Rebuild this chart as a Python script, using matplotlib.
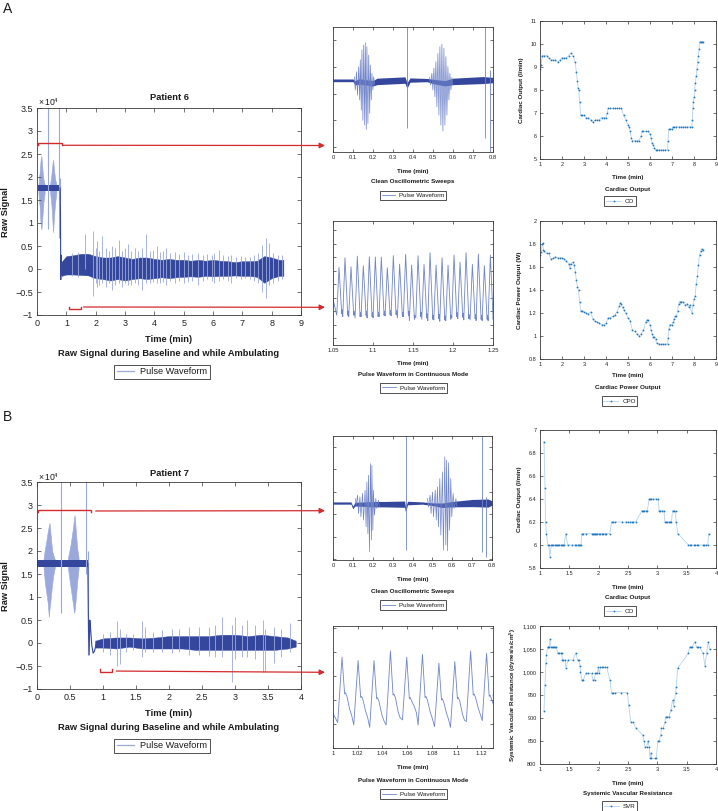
import numpy as np
import matplotlib
matplotlib.use('Agg')
import matplotlib.pyplot as plt
from matplotlib.lines import Line2D
from matplotlib.ticker import FuncFormatter

plt.rcParams['font.family'] = ['Liberation Sans', 'DejaVu Sans']
plt.rcParams['mathtext.fontset'] = 'custom'
plt.rcParams['mathtext.rm'] = 'Liberation Sans'
plt.rcParams['mathtext.it'] = 'Liberation Sans:italic'
plt.rcParams['mathtext.bf'] = 'Liberation Sans:bold'

# ======================= DATA =======================
# ---- Patient 6, raw signal (units of 1e4) ----
raw6_base_t = [0.02, 0.80]
raw6_base_v = [1.76, 1.76]
raw6_base_hw = [0.07, 0.07]
# group 1/2 = oscillometric bursts (envelopes), 0 = single spikes
raw6_burst_g = [1, 1, 1, 1, 1, 1, 1, 0, 2, 2, 2, 2, 2, 2, 2, 0, 0]
raw6_burst_t = [0.05, 0.09, 0.12, 0.15, 0.18, 0.22, 0.26, 0.37, 0.45, 0.49, 0.52, 0.55, 0.58, 0.62, 0.66, 0.75, 0.78]
raw6_burst_hi = [1.85, 2.10, 2.35, 2.46, 2.20, 1.95, 1.85, 3.60, 1.85, 2.05, 2.25, 2.38, 2.15, 1.95, 1.85, 3.60, 1.98]
raw6_burst_lo = [1.65, 1.35, 1.00, 0.86, 1.10, 1.45, 1.65, 0.87, 1.65, 1.40, 1.10, 0.80, 1.15, 1.45, 1.65, 0.67, 1.50]
raw6_drop_t = [0.79, 0.80, 0.81, 0.82, 0.83, 0.85]
raw6_drop_v = [1.76, 1.20, -0.23, 0.30, -0.12, 0.05]
raw6_amb_t = [0.83, 1.0, 1.25, 1.5, 1.75, 1.9, 2.0, 2.25, 2.5, 2.75, 3.0, 3.25, 3.5, 3.75, 4.0, 4.25, 4.5,
              4.75, 5.0, 5.25, 5.5, 5.75, 6.0, 6.25, 6.5, 6.75, 7.0, 7.25, 7.5, 7.75, 8.0, 8.25, 8.4]
raw6_core_hi = [0.15, 0.28, 0.30, 0.33, 0.33, 0.30, 0.28, 0.25, 0.25, 0.28, 0.25, 0.22, 0.25, 0.25, 0.22, 0.20, 0.22,
                0.20, 0.20, 0.18, 0.20, 0.18, 0.20, 0.18, 0.17, 0.15, 0.17, 0.17, 0.18, 0.28, 0.25, 0.20, 0.20]
raw6_core_lo = [-0.15, -0.12, -0.12, -0.13, -0.14, -0.18, -0.20, -0.22, -0.25, -0.22, -0.25, -0.22, -0.20, -0.22, -0.20, -0.18, -0.20,
                -0.18, -0.17, -0.16, -0.17, -0.15, -0.16, -0.15, -0.15, -0.14, -0.15, -0.15, -0.17, -0.30, -0.20, -0.15, -0.15]
raw6_spk_t = [1.20, 1.40, 1.63, 1.91, 2.00, 2.05, 2.12, 2.22, 2.35, 2.45, 2.55, 2.65, 2.78, 2.90, 3.00, 3.10, 3.20,
              3.35, 3.45, 3.58, 3.72, 3.85, 3.95, 4.09, 4.20, 4.30, 4.40, 4.55, 4.70, 4.85, 5.02, 5.15, 5.30, 5.50,
              5.65, 5.80, 5.95, 6.05, 6.19, 6.35, 6.50, 6.60, 6.80, 6.95, 7.10, 7.25, 7.40, 7.55, 7.67, 7.81, 7.90,
              8.05, 8.20, 8.35]
raw6_spk_hi = [0.35, 0.36, 0.77, 0.82, 0.45, 0.60, 0.40, 0.71, 0.45, 0.40, 0.50, 0.45, 0.64, 0.40, 0.45, 0.55, 0.40,
               0.45, 0.40, 0.45, 0.77, 0.40, 0.42, 0.49, 0.38, 0.40, 0.45, 0.35, 0.38, 0.33, 0.36, 0.30, 0.32, 0.35,
               0.30, 0.33, 0.30, 0.35, 0.42, 0.30, 0.28, 0.30, 0.26, 0.28, 0.26, 0.27, 0.30, 0.35, 0.53, 0.67, 0.57,
               0.35, 0.30, 0.30]
raw6_spk_lo = [-0.15, -0.18, 0.00, -0.58, -0.30, -0.40, -0.35, -0.30, -0.40, -0.30, -0.45, -0.35, -0.30, -0.40, -0.30, -0.35, -0.35,
               -0.30, -0.35, -0.45, -0.30, -0.30, -0.28, -0.30, -0.30, -0.28, -0.35, -0.25, -0.30, -0.25, -0.30, -0.28, -0.25, -0.35,
               -0.25, -0.22, -0.25, -0.30, -0.25, -0.22, -0.25, -0.30, -0.20, -0.22, -0.20, -0.22, -0.25, -0.30, -0.50, -0.63, -0.35,
               -0.30, -0.25, -0.22]

# ---- Patient 7, raw signal ----
raw7_base_t = [0.0, 0.78]
raw7_base_v = [1.73, 1.73]
raw7_base_hw = [0.08, 0.08]
raw7_burst_g = [1, 1, 1, 1, 1, 1, 1, 1, 1, 1, 0, 2, 2, 2, 2, 2, 2, 2, 2, 2, 2, 0, 0]
raw7_burst_t = [0.10, 0.12, 0.14, 0.16, 0.18, 0.19, 0.21, 0.23, 0.25, 0.27, 0.364,
                0.47, 0.49, 0.51, 0.53, 0.55, 0.56, 0.57, 0.59, 0.61, 0.63, 0.747, 0.77]
raw7_burst_hi = [1.85, 2.05, 2.20, 2.40, 2.55, 2.61, 2.30, 2.00, 1.90, 1.82, 3.60,
                 1.85, 2.00, 2.15, 2.35, 2.55, 2.70, 2.78, 2.40, 2.05, 1.85, 3.60, 2.00]
raw7_burst_lo = [1.62, 1.30, 1.10, 0.90, 0.57, 0.75, 1.00, 1.30, 1.50, 1.64, 0.66,
                 1.62, 1.40, 1.20, 1.00, 0.80, 0.66, 0.70, 1.00, 1.35, 1.62, 1.50, -0.26]
raw7_drop_t = [0.77, 0.78, 0.79, 0.80, 0.81, 0.83, 0.85, 0.87, 0.90]
raw7_drop_v = [1.73, 0.30, -0.26, 0.50, 0.35, -0.05, -0.22, -0.18, 0.00]
raw7_amb_t = [0.88, 1.0, 1.2, 1.4, 1.6, 1.8, 2.0, 2.2, 2.4, 2.6, 2.8, 3.0, 3.2, 3.4, 3.6, 3.8, 3.92]
raw7_core_hi = [0.05, 0.10, 0.12, 0.12, 0.10, 0.12, 0.15, 0.15, 0.15, 0.15, 0.18, 0.18, 0.15, 0.18, 0.15, 0.12, 0.05]
raw7_core_lo = [-0.10, -0.10, -0.12, -0.08, -0.12, -0.12, -0.12, -0.12, -0.15, -0.15, -0.15, -0.15, -0.15, -0.15, -0.15, -0.12, -0.08]
raw7_spk_t = [1.00, 1.10, 1.21, 1.25, 1.35, 1.45, 1.59, 1.63, 1.75, 1.90, 2.05, 2.15, 2.30, 2.45, 2.60, 2.70,
              2.80, 2.95, 3.00, 3.10, 3.18, 3.30, 3.43, 3.46, 3.59, 3.70, 3.83]
raw7_spk_hi = [0.20, 0.25, 0.47, 0.30, 0.20, 0.20, 0.47, 0.35, 0.25, 0.28, 0.30, 0.30, 0.35, 0.35, 0.35, 0.40,
               0.57, 0.40, 0.57, 0.40, 0.50, 0.40, 0.50, 0.30, 0.35, 0.30, 0.43]
raw7_spk_lo = [-0.20, -0.25, -0.51, -0.45, -0.20, -0.15, -0.30, -0.20, -0.20, -0.20, -0.22, -0.20, -0.25, -0.25, -0.28, -0.30,
               -0.30, -0.84, -0.35, -0.30, -0.30, -0.35, -0.62, -0.62, -0.44, -0.30, -0.20]

# ---- Clean oscillometric sweeps (arbitrary units) ----
sw6_base_t = [0, 0.10, 0.11, 0.13, 0.20, 0.22, 0.36, 0.37, 0.385, 0.47, 0.50, 0.56, 0.60, 0.75, 0.80]
sw6_base_v = [2.49, 2.49, 2.40, 2.45, 2.38, 2.45, 2.50, 2.30, 2.50, 2.50, 2.45, 2.38, 2.45, 2.50, 2.50]
sw6_base_hw = [0.05, 0.05, 0.08, 0.10, 0.10, 0.12, 0.12, 0.10, 0.08, 0.06, 0.08, 0.10, 0.12, 0.13, 0.10]
sw6_g = [1] * 12 + [0] + [2] * 12 + [0, 0]
sw6_t = [0.109, 0.120, 0.131, 0.139, 0.147, 0.156, 0.164, 0.172, 0.181, 0.189, 0.197, 0.206, 0.3716,
         0.485, 0.497, 0.507, 0.517, 0.527, 0.537, 0.547, 0.557, 0.567, 0.577, 0.587, 0.597, 0.758, 0.783]
sw6_hi = [2.62, 2.81, 3.00, 3.25, 3.62, 3.80, 3.89, 3.74, 3.43, 3.06, 2.75, 2.62, 5.0,
          2.60, 2.75, 2.94, 3.18, 3.49, 3.74, 3.83, 3.68, 3.37, 3.00, 2.75, 2.60, 5.0, 2.87]
sw6_lo = [2.13, 1.94, 1.76, 1.39, 1.01, 0.83, 0.67, 0.89, 1.26, 1.76, 2.13, 2.32, 0.71,
          2.32, 2.13, 1.88, 1.51, 1.20, 0.83, 0.61, 0.83, 1.20, 1.76, 2.13, 2.32, 0.36, -0.5]

sw7_base_t = [0, 0.09, 0.10, 0.11, 0.20, 0.25, 0.36, 0.365, 0.375, 0.45, 0.50, 0.55, 0.60, 0.70, 0.78, 0.80]
sw7_base_v = [2.50, 2.50, 2.30, 2.45, 2.45, 2.45, 2.45, 2.20, 2.50, 2.50, 2.45, 2.40, 2.45, 2.50, 2.50, 2.50]
sw7_base_hw = [0.05, 0.05, 0.06, 0.08, 0.12, 0.12, 0.14, 0.10, 0.08, 0.05, 0.06, 0.10, 0.12, 0.16, 0.18, 0.10]
sw7_g = [1] * 12 + [0] + [2] * 13 + [0, 0]
sw7_t = [0.114, 0.126, 0.138, 0.151, 0.164, 0.173, 0.181, 0.191, 0.198, 0.206, 0.218, 0.231, 0.367,
         0.478, 0.491, 0.503, 0.517, 0.528, 0.540, 0.553, 0.565, 0.574, 0.584, 0.595, 0.607, 0.621, 0.751, 0.771]
sw7_hi = [2.70, 2.85, 2.78, 2.93, 3.07, 3.44, 3.74, 4.26, 4.18, 3.07, 2.70, 2.63, 6.0,
          2.70, 2.85, 2.99, 3.07, 3.22, 3.59, 3.89, 4.56, 4.41, 4.30, 3.59, 2.93, 2.70, 6.0, 2.78]
sw7_lo = [2.40, 2.03, 1.89, 1.74, 1.44, 1.14, 0.33, 0.85, 1.29, 1.96, 2.26, 2.33, 0.40,
          2.33, 2.03, 1.89, 1.74, 1.44, 1.07, 0.40, 0.63, 0.37, 1.29, 1.89, 2.26, 2.33, 0.33, 0.10]

# ---- Pulse waveform in continuous mode (per-beat landmarks) ----
pw6_peak_t = [1.0575, 1.0650, 1.0725, 1.0804, 1.0879, 1.0954, 1.1029, 1.1104, 1.1179, 1.1254, 1.1333, 1.1408, 1.1483,
              1.1563, 1.1638, 1.1713, 1.1788, 1.1863, 1.1938, 1.2013, 1.2088, 1.2163, 1.2242, 1.2317, 1.2392, 1.2467]
pw6_peak_v = [5.24, 5.95, 5.29, 6.07, 5.36, 6.02, 6.00, 6.00, 5.21, 6.10, 5.48, 6.20, 5.41,
              6.10, 5.46, 6.32, 5.41, 5.95, 5.41, 6.15, 5.63, 6.32, 5.46, 6.22, 5.36, 6.15]
pw6_trough_v = [1.70, 1.60, 1.60, 1.50, 1.60, 1.50, 1.50, 1.60, 1.65, 1.65, 1.50, 1.60, 1.30,
                1.50, 1.40, 1.30, 1.35, 1.25, 1.30, 1.50, 1.45, 1.35, 1.35, 1.30, 1.30, 1.30]
pw6_start = (1.050, 2.90)
pw6_end = (1.2505, 3.50)

pw7_peak_t = [1.0073, 1.0203, 1.0332, 1.0465, 1.0597, 1.0724, 1.0857, 1.0986, 1.1114, 1.1243]
pw7_peak_v = [3.78, 3.64, 3.64, 4.04, 3.78, 3.90, 3.53, 3.60, 4.04, 3.94]
pw7_notch_v = [2.25, 2.10, 2.05, 2.20, 2.05, 2.10, 2.00, 2.05, 2.20, 2.15]
pw7_trough_v = [1.06, 0.96, 0.86, 0.96, 1.17, 0.96, 0.89, 0.86, 1.10, 1.14]
pw7_start = (1.000, 1.44)
pw7_end = (1.1295, 2.21)

# ---- Cardiac output, patient 6 ----
co6_t = [1.0, 1.05, 1.1, 1.2, 1.3, 1.4, 1.5, 1.6, 1.7, 1.8, 1.9, 2.0, 2.1, 2.2, 2.3, 2.4, 2.5, 2.6, 2.65, 2.7,
         2.73, 2.76, 2.8, 2.85, 2.9, 3.0, 3.1, 3.2, 3.3, 3.4, 3.5, 3.6, 3.7, 3.8, 3.9, 4.0, 4.05, 4.1, 4.2, 4.3,
         4.4, 4.5, 4.6, 4.7, 4.8, 4.9, 5.0, 5.05, 5.1, 5.15, 5.2, 5.3, 5.4, 5.5, 5.6, 5.65, 5.7, 5.8, 5.9, 6.0,
         6.05, 6.1, 6.15, 6.2, 6.25, 6.3, 6.4, 6.5, 6.6, 6.7, 6.8, 6.82, 6.85, 6.9, 7.0, 7.05, 7.1, 7.2, 7.3, 7.4,
         7.5, 7.6, 7.7, 7.8, 7.9, 7.92, 7.95, 7.97, 8.0, 8.03, 8.06, 8.1, 8.13, 8.16, 8.2, 8.23, 8.26, 8.3, 8.35, 8.4]
co6_v = [8.9, 9.1, 9.5, 9.5, 9.5, 9.4, 9.3, 9.3, 9.3, 9.2, 9.3, 9.4, 9.4, 9.4, 9.5, 9.6, 9.5, 9.2, 8.8, 8.4,
         8.1, 8.0, 7.5, 6.9, 6.9, 6.9, 6.8, 6.8, 6.7, 6.6, 6.7, 6.7, 6.7, 6.8, 6.8, 6.8, 7.0, 7.2, 7.2, 7.2,
         7.2, 7.2, 7.2, 7.2, 6.9, 6.7, 6.5, 6.4, 6.2, 5.9, 5.8, 5.8, 5.8, 5.8, 6.0, 6.2, 6.2, 6.2, 6.2, 6.1,
         5.9, 5.7, 5.6, 5.5, 5.4, 5.4, 5.4, 5.4, 5.4, 5.4, 5.4, 5.8, 6.3, 6.3, 6.3, 6.4, 6.4, 6.4, 6.4, 6.4,
         6.4, 6.4, 6.4, 6.4, 6.4, 6.7, 7.2, 7.5, 7.7, 8.0, 8.3, 8.6, 8.9, 9.2, 9.5, 9.8, 10.1, 10.1, 10.1, 10.1]

# ---- Cardiac power output, patient 6 ----
cpo6_t = [1.0, 1.05, 1.1, 1.13, 1.15, 1.2, 1.3, 1.4, 1.5, 1.6, 1.7, 1.8, 1.9, 2.0, 2.1, 2.2, 2.3, 2.35, 2.4, 2.5,
          2.55, 2.6, 2.65, 2.7, 2.75, 2.8, 2.85, 2.9, 3.0, 3.1, 3.2, 3.3, 3.4, 3.5, 3.6, 3.7, 3.8, 3.9, 4.0, 4.1,
          4.2, 4.3, 4.4, 4.5, 4.6, 4.65, 4.7, 4.75, 4.8, 4.9, 5.0, 5.1, 5.2, 5.3, 5.4, 5.5, 5.6, 5.7, 5.8, 5.85,
          5.9, 6.0, 6.05, 6.1, 6.15, 6.2, 6.25, 6.3, 6.4, 6.5, 6.6, 6.7, 6.8, 6.82, 6.85, 6.9, 7.0, 7.05, 7.1, 7.15,
          7.2, 7.25, 7.3, 7.35, 7.4, 7.5, 7.6, 7.7, 7.75, 7.8, 7.9, 7.95, 8.0, 8.05, 8.1, 8.15, 8.2, 8.25, 8.3, 8.35, 8.4]
cpo6_v = [1.70, 1.73, 1.80, 1.81, 1.75, 1.74, 1.72, 1.72, 1.67, 1.68, 1.69, 1.68, 1.68, 1.68, 1.67, 1.65, 1.63, 1.59, 1.63, 1.64,
          1.62, 1.56, 1.49, 1.43, 1.40, 1.30, 1.22, 1.22, 1.21, 1.20, 1.19, 1.21, 1.15, 1.13, 1.12, 1.11, 1.10, 1.10, 1.11, 1.16,
          1.16, 1.17, 1.18, 1.21, 1.26, 1.29, 1.28, 1.25, 1.23, 1.20, 1.16, 1.13, 1.05, 1.04, 1.02, 1.00, 1.02, 1.05, 1.12, 1.14,
          1.14, 1.10, 1.05, 1.02, 0.99, 0.99, 0.97, 0.94, 0.93, 0.93, 0.93, 0.93, 0.93, 0.98, 1.06, 1.10, 1.10, 1.12, 1.15, 1.17,
          1.17, 1.22, 1.28, 1.30, 1.30, 1.30, 1.27, 1.28, 1.25, 1.27, 1.20, 1.27, 1.32, 1.35, 1.45, 1.52, 1.62, 1.70, 1.74, 1.76, 1.75]

# ---- Cardiac output, patient 7 ----
co7_t = [1.068, 1.085, 1.095, 1.11, 1.13, 1.15, 1.17, 1.19, 1.21, 1.23, 1.25, 1.27, 1.29, 1.31, 1.33, 1.35, 1.37, 1.39,
         1.41, 1.44, 1.47, 1.54, 1.60, 1.62, 1.64, 1.66, 1.68, 1.70, 1.71, 1.73, 1.79, 1.88, 1.90, 1.92, 1.94, 1.96,
         1.98, 2.00, 2.02, 2.05, 2.08, 2.10, 2.13, 2.19, 2.22, 2.25, 2.28, 2.39, 2.47, 2.50, 2.53, 2.56, 2.59, 2.63,
         2.74, 2.76, 2.78, 2.80, 2.83, 2.86, 2.88, 2.90, 2.92, 2.98, 3.01, 3.03, 3.05, 3.08, 3.11, 3.13, 3.15, 3.17,
         3.20, 3.22, 3.24, 3.26, 3.28, 3.31, 3.32, 3.35, 3.53, 3.55, 3.58, 3.62, 3.64, 3.67, 3.69, 3.77, 3.80, 3.83,
         3.86, 3.875]
co7_v = [6.9, 6.5, 6.2, 6.1, 6.0, 6.0, 5.9, 6.0, 6.0, 6.0, 6.0, 6.0, 6.0, 6.0, 6.0, 6.0, 6.0, 6.0,
         6.0, 6.1, 6.0, 6.0, 6.0, 6.0, 6.0, 6.0, 6.0, 6.0, 6.1, 6.1, 6.1, 6.1, 6.1, 6.1, 6.1, 6.1,
         6.1, 6.1, 6.1, 6.1, 6.1, 6.1, 6.1, 6.1, 6.2, 6.2, 6.2, 6.2, 6.2, 6.2, 6.2, 6.2, 6.2, 6.2,
         6.3, 6.3, 6.3, 6.3, 6.3, 6.4, 6.4, 6.4, 6.4, 6.4, 6.4, 6.3, 6.3, 6.3, 6.3, 6.2, 6.2, 6.2,
         6.2, 6.2, 6.2, 6.3, 6.3, 6.3, 6.2, 6.1, 6.0, 6.0, 6.0, 6.0, 6.0, 6.0, 6.0, 6.0, 6.0, 6.0,
         6.0, 6.1]

# ---- Systemic vascular resistance, patient 7 ----
svr7_t = [1.068, 1.085, 1.10, 1.11, 1.13, 1.14, 1.155, 1.17, 1.185, 1.20, 1.22, 1.24, 1.26, 1.28, 1.30, 1.32, 1.35, 1.37,
          1.38, 1.40, 1.43, 1.44, 1.48, 1.56, 1.61, 1.64, 1.66, 1.68, 1.69, 1.71, 1.74, 1.78, 1.81, 1.88, 1.90, 1.93,
          1.94, 1.96, 1.98, 1.99, 2.01, 2.03, 2.05, 2.08, 2.11, 2.14, 2.19, 2.22, 2.25, 2.28, 2.38, 2.49, 2.51, 2.55,
          2.58, 2.64, 2.75, 2.77, 2.79, 2.82, 2.84, 2.86, 2.875, 2.89, 2.90, 2.96, 2.98, 3.01, 3.03, 3.06, 3.07, 3.10,
          3.13, 3.14, 3.17, 3.20, 3.23, 3.26, 3.28, 3.31, 3.32, 3.35, 3.53, 3.55, 3.57, 3.59, 3.64, 3.67, 3.70, 3.72,
          3.78, 3.81, 3.84, 3.87, 3.89]
svr7_v = [916, 972, 1020, 1037, 1054, 1054, 1054, 1071, 1054, 1054, 1054, 1054, 1054, 1054, 1041, 1041, 1041, 1041,
          1026, 1026, 1026, 1009, 1026, 1026, 1041, 1026, 1026, 1013, 1001, 983, 983, 997, 997, 997, 983, 983,
          997, 997, 997, 1010, 997, 1010, 1010, 1010, 1010, 1010, 983, 955, 955, 955, 955, 955, 928, 891,
          891, 878, 863, 851, 838, 838, 851, 838, 812, 825, 812, 812, 812, 851, 851, 863, 878, 878,
          891, 903, 903, 903, 917, 939, 927, 954, 967, 1009, 1041, 1054, 1054, 1054, 1066, 1054, 1054, 1054,
          1041, 1013, 1041, 1066, 1049]

# ======================= STYLE =======================
W, H = 718, 811
DARK = '#34479c'
LIGHT = '#9aa8dc'
THIN = '#6f84c9'
RED = '#d42a2e'
MK = '#1f77c0'
MKLINE = '#b5d3ee'
SPINE = '#3a3a3a'
TXT = '#1a1a1a'

fig = plt.figure(figsize=(W / 100, H / 100), dpi=100)


def add_ax(l, t, r, b):
    return fig.add_axes([l / W, (H - b) / H, (r - l) / W, (b - t) / H])


def ftext(x, y, s, size, bold=False, ha='center', rot=0):
    fig.text(x / W, (H - y) / H, s, fontsize=size, fontweight='bold' if bold else 'normal',
             ha=ha, va='center', rotation=rot, color=TXT)


def gfmt(v, pos):
    return ('%g' % round(v, 6)).replace('-', '\u2212')


def style(ax, size, ticklen, pad):
    for s in ax.spines.values():
        s.set_linewidth(0.6)
        s.set_color(SPINE)
    ax.tick_params(direction='in', top=True, right=True, length=ticklen, width=0.5,
                   labelsize=size, colors=SPINE, labelcolor='#222222', pad=pad)
    ax.xaxis.set_major_formatter(FuncFormatter(gfmt))
    ax.yaxis.set_major_formatter(FuncFormatter(gfmt))


def legend(x, y, handle, label, size, hl):
    leg = fig.legend([handle], [label], loc='center', bbox_to_anchor=(x / W, (H - y) / H),
                     fontsize=size, frameon=True, fancybox=False, handlelength=hl,
                     handletextpad=0.6, borderpad=0.3, borderaxespad=0, framealpha=1)
    leg.get_frame().set_edgecolor('#333333')
    leg.get_frame().set_linewidth(0.6)
    for t in leg.get_texts():
        t.set_color(TXT)


def draw_raw(ax, base_t, base_v, base_hw, bg, bt, bhi, blo, dt, dv, at, chi, clo, st, shi, slo):
    bg = np.array(bg)
    bt = np.array(bt)
    bhi = np.array(bhi)
    blo = np.array(blo)
    for g in sorted(set(bg) - {0}):
        m = bg == g
        ax.fill_between(bt[m], blo[m], bhi[m], color=LIGHT, lw=0.4, edgecolor=LIGHT)
    m = bg == 0
    ax.vlines(bt[m], blo[m], bhi[m], color=LIGHT, lw=0.8)
    ax.vlines(st, slo, shi, color=LIGHT, lw=0.6)
    ax.fill_between(at, clo, chi, color=DARK, lw=0.3, edgecolor=DARK)
    bv = np.array(base_v)
    hw = np.array(base_hw)
    ax.fill_between(base_t, bv - hw, bv + hw, color=DARK, lw=0)
    ax.plot(dt, dv, color=DARK, lw=0.8)


def draw_sweep(ax, bt, bv, bhw, g, st, shi, slo):
    g = np.array(g)
    st = np.array(st)
    shi = np.array(shi)
    slo = np.array(slo)
    for k in sorted(set(g) - {0}):
        m = g == k
        xs, ys = [], []
        for t, h, l in zip(st[m], shi[m], slo[m]):
            xs += [t - 0.0025, t + 0.0025]
            ys += [h, l]
        ax.plot(xs, ys, color=THIN, lw=0.5)
    m = g == 0
    ax.vlines(st[m], slo[m], shi[m], color=THIN, lw=0.6)
    bv = np.array(bv)
    bhw = np.array(bhw)
    ax.fill_between(bt, bv - bhw, bv + bhw, color=DARK, lw=0)


def bracket(ax, x0, x1, y, d):
    ax.plot([x0, x0, x1, x1], [y + d, y, y, y + d], color=RED, lw=1.0, clip_on=False,
            solid_joinstyle='miter')


def arrow(ax, xs, ys, fx, fy):
    ax.annotate('', xy=(fx, H - fy), xycoords='figure pixels', xytext=(xs, ys), textcoords='data',
                arrowprops=dict(arrowstyle='-|>', color=RED, lw=0.9, mutation_scale=8,
                                shrinkA=0, shrinkB=0), annotation_clip=False)


def pulse6_path():
    xs = [pw6_start[0]]
    ys = [pw6_start[1]]
    for tp, pv, tv in zip(pw6_peak_t, pw6_peak_v, pw6_trough_v):
        xs += [tp - 0.0028, tp, tp + 0.0034, tp + 0.0040]
        ys += [tv, pv, tv + 0.1, tv + 0.4]
    xs.append(pw6_end[0])
    ys.append(pw6_end[1])
    return xs, ys


def pulse7_path():
    xs = [pw7_start[0]]
    ys = [pw7_start[1]]
    for tp, pv, nv, tv in zip(pw7_peak_t, pw7_peak_v, pw7_notch_v, pw7_trough_v):
        xs += [tp - 0.0035, tp, tp + 0.0021, tp + 0.0028, tp + 0.0040, tp + 0.0062, tp + 0.0078]
        ys += [tv, pv, nv, nv + 0.05, nv - 0.1, tv + 0.55, tv + 0.3]
    xs.append(pw7_end[0])
    ys.append(pw7_end[1])
    return xs, ys


def trend(ax, t, v):
    ax.plot(t, v, color=MKLINE, lw=0.6, marker='.', ms=2.6, mfc=MK, mec=MK, mew=0)


MKH = Line2D([], [], color=MKLINE, lw=0.6, marker='.', ms=2.6, mfc=MK, mec=MK, mew=0)
PWH = Line2D([], [], color=THIN, lw=0.6)

# ======================= PANEL A =======================
ftext(8, 9, 'A', 10, ha='center')

ax = add_ax(37, 108, 301, 315)
draw_raw(ax, raw6_base_t, raw6_base_v, raw6_base_hw, raw6_burst_g, raw6_burst_t, raw6_burst_hi, raw6_burst_lo,
         raw6_drop_t, raw6_drop_v, raw6_amb_t, raw6_core_hi, raw6_core_lo,
         raw6_spk_t, raw6_spk_hi, raw6_spk_lo)
ax.set_xlim(0, 9)
ax.set_ylim(-1, 3.5)
ax.set_xticks(np.arange(0, 10, 1))
ax.set_yticks(np.arange(-1, 3.51, 0.5))
style(ax, 6.5, 3, 3)
bracket(ax, 0.02, 0.84, 2.74, -0.05)
arrow(ax, 0.88, 2.69, 325, 145.5)
bracket(ax, 1.08, 1.49, -0.87, 0.05)
arrow(ax, 1.59, -0.826, 325, 307.3)
ftext(169, 97, 'Patient 6', 6.7, bold=True)
ftext(38, 102, r'$\times\,10^4$', 6.2, ha='left')
ftext(6, 212, 'Raw Signal', 6.7, bold=True, rot=90)
ftext(169, 339, 'Time (min)', 6.7, bold=True)
ftext(169, 354, 'Raw Signal during Baseline and while Ambulating', 6.7, bold=True)
legend(162, 372, Line2D([], [], color=LIGHT, lw=0.9), 'Pulse Waveform', 6.6, 1.9)

ax = add_ax(333, 27, 493, 152)
draw_sweep(ax, sw6_base_t, sw6_base_v, sw6_base_hw, sw6_g, sw6_t, sw6_hi, sw6_lo)
ax.set_xlim(0, 0.8)
ax.set_ylim(-0.17, 4.47)
ax.set_xticks(np.arange(0, 0.81, 0.1))
ax.set_yticks([0, 1, 2, 3, 4])
style(ax, 4.2, 2, 2.5)
ax.set_yticklabels([])
ftext(413, 171, 'Time (min)', 4.5, bold=True)
ftext(413, 182, 'Clean Oscillometric Sweeps', 4.5, bold=True)
legend(413, 195.5, PWH, 'Pulse Waveform', 4.5, 2.2)

ax = add_ax(333, 221, 493, 345)
px, py = pulse6_path()
ax.plot(px, py, color=THIN, lw=0.6)
ax.set_xlim(1.05, 1.25)
ax.set_ylim(-0.5, 8.67)
ax.set_xticks([1.05, 1.1, 1.15, 1.2, 1.25])
ax.set_yticks(range(0, 9))
style(ax, 4.2, 2, 2.5)
ax.set_yticklabels([])
ftext(413, 364, 'Time (min)', 4.5, bold=True)
ftext(413, 375, 'Pulse Waveform in Continuous Mode', 4.5, bold=True)
legend(413.5, 388, PWH, 'Pulse Waveform', 4.5, 2.2)

ax = add_ax(540, 21, 716, 159)
trend(ax, co6_t, co6_v)
ax.set_xlim(1, 9)
ax.set_ylim(5, 11)
ax.set_xticks(range(1, 10))
ax.set_yticks(range(5, 12))
style(ax, 4.0, 2, 2.5)
ftext(521, 90, 'Cardiac Output (l/min)', 4.5, bold=True, rot=90)
ftext(628, 177, 'Time (min)', 4.5, bold=True)
ftext(628, 189, 'Cardiac Output', 4.5, bold=True)
legend(620, 201, MKH, 'CO', 4.5, 2.4)

ax = add_ax(540, 221, 716, 359)
trend(ax, cpo6_t, cpo6_v)
ax.set_xlim(1, 9)
ax.set_ylim(0.8, 2)
ax.set_xticks(range(1, 10))
ax.set_yticks([0.8, 1.0, 1.2, 1.4, 1.6, 1.8, 2.0])
style(ax, 4.0, 2, 2.5)
ftext(519, 290, 'Cardiac Power Output (W)', 4.5, bold=True, rot=90)
ftext(628, 376, 'Time (min)', 4.5, bold=True)
ftext(628, 388, 'Cardiac Power Output', 4.5, bold=True)
legend(619.5, 401, MKH, 'CPO', 4.5, 2.4)

# ======================= PANEL B =======================
ftext(8, 417, 'B', 10, ha='center')

ax = add_ax(37, 482, 301, 689)
draw_raw(ax, raw7_base_t, raw7_base_v, raw7_base_hw, raw7_burst_g, raw7_burst_t, raw7_burst_hi, raw7_burst_lo,
         raw7_drop_t, raw7_drop_v, raw7_amb_t, raw7_core_hi, raw7_core_lo,
         raw7_spk_t, raw7_spk_hi, raw7_spk_lo)
ax.set_xlim(0, 4)
ax.set_ylim(-1, 3.5)
ax.set_xticks(np.arange(0, 4.01, 0.5))
ax.set_yticks(np.arange(-1, 3.51, 0.5))
style(ax, 6.5, 3, 3)
bracket(ax, 0.015, 0.82, 2.90, -0.06)
arrow(ax, 0.89, 2.87, 325, 510.7)
bracket(ax, 0.96, 1.14, -0.62, 0.06)
arrow(ax, 1.20, -0.61, 325, 672.3)
ftext(169, 473, 'Patient 7', 6.7, bold=True)
ftext(38, 477, r'$\times\,10^4$', 6.2, ha='left')
ftext(6, 586, 'Raw Signal', 6.7, bold=True, rot=90)
ftext(169, 713, 'Time (min)', 6.7, bold=True)
ftext(169, 728, 'Raw Signal during Baseline and while Ambulating', 6.7, bold=True)
legend(162, 746, Line2D([], [], color=LIGHT, lw=0.9), 'Pulse Waveform', 6.6, 1.9)

ax = add_ax(333, 436, 492, 560)
draw_sweep(ax, sw7_base_t, sw7_base_v, sw7_base_hw, sw7_g, sw7_t, sw7_hi, sw7_lo)
ax.set_xlim(0, 0.8)
ax.set_ylim(-0.04, 5.49)
ax.set_xticks(np.arange(0, 0.81, 0.1))
ax.set_yticks([0, 1, 2, 3, 4, 5])
style(ax, 4.2, 2, 2.5)
ax.set_yticklabels([])
ftext(413, 580, 'Time (min)', 4.5, bold=True)
ftext(413, 591, 'Clean Oscillometric Sweeps', 4.5, bold=True)
legend(413, 605, PWH, 'Pulse Waveform', 4.5, 2.2)

ax = add_ax(333, 626, 493, 748)
px, py = pulse7_path()
ax.plot(px, py, color=THIN, lw=0.6)
ax.set_xlim(1.0, 1.1295)
ax.set_ylim(0, 5.08)
ax.set_xticks([1.0, 1.02, 1.04, 1.06, 1.08, 1.1, 1.12])
ax.set_yticks(range(0, 6))
style(ax, 4.2, 2, 2.5)
ax.set_yticklabels([])
ftext(413, 768, 'Time (min)', 4.5, bold=True)
ftext(413, 780, 'Pulse Waveform in Continuous Mode', 4.5, bold=True)
legend(413.5, 794, PWH, 'Pulse Waveform', 4.5, 2.2)

ax = add_ax(540, 430, 716, 568)
trend(ax, co7_t, co7_v)
ax.set_xlim(1, 4)
ax.set_ylim(5.8, 7)
ax.set_xticks([1, 1.5, 2, 2.5, 3, 3.5, 4])
ax.set_yticks([5.8, 6.0, 6.2, 6.4, 6.6, 6.8, 7.0])
style(ax, 4.0, 2, 2.5)
ftext(520, 499, 'Cardiac Output (l/min)', 4.5, bold=True, rot=90)
ftext(628, 587, 'Time (min)', 4.5, bold=True)
ftext(628, 598, 'Cardiac Output', 4.5, bold=True)
legend(620, 611, MKH, 'CO', 4.5, 2.4)

ax = add_ax(540, 626, 716, 764)
trend(ax, svr7_t, svr7_v)
ax.set_xlim(1, 4)
ax.set_ylim(800, 1100)
ax.set_xticks([1, 1.5, 2, 2.5, 3, 3.5, 4])
ax.set_yticks(range(800, 1101, 50))
style(ax, 4.0, 2, 2.5)
ax.yaxis.set_major_formatter(FuncFormatter(lambda v, p: '{:,.0f}'.format(v)))
ftext(513, 695, r'Systemic Vascular Resistance (dynes/s/cm$^\mathbf{5}$)', 4.5, bold=True, rot=90)
ftext(628, 783, 'Time (min)', 4.5, bold=True)
ftext(628, 793, 'Systemic Vascular Resistance', 4.5, bold=True)
legend(619.5, 806, MKH, 'SVR', 4.5, 2.4)

fig.savefig('out.png', dpi=100)
